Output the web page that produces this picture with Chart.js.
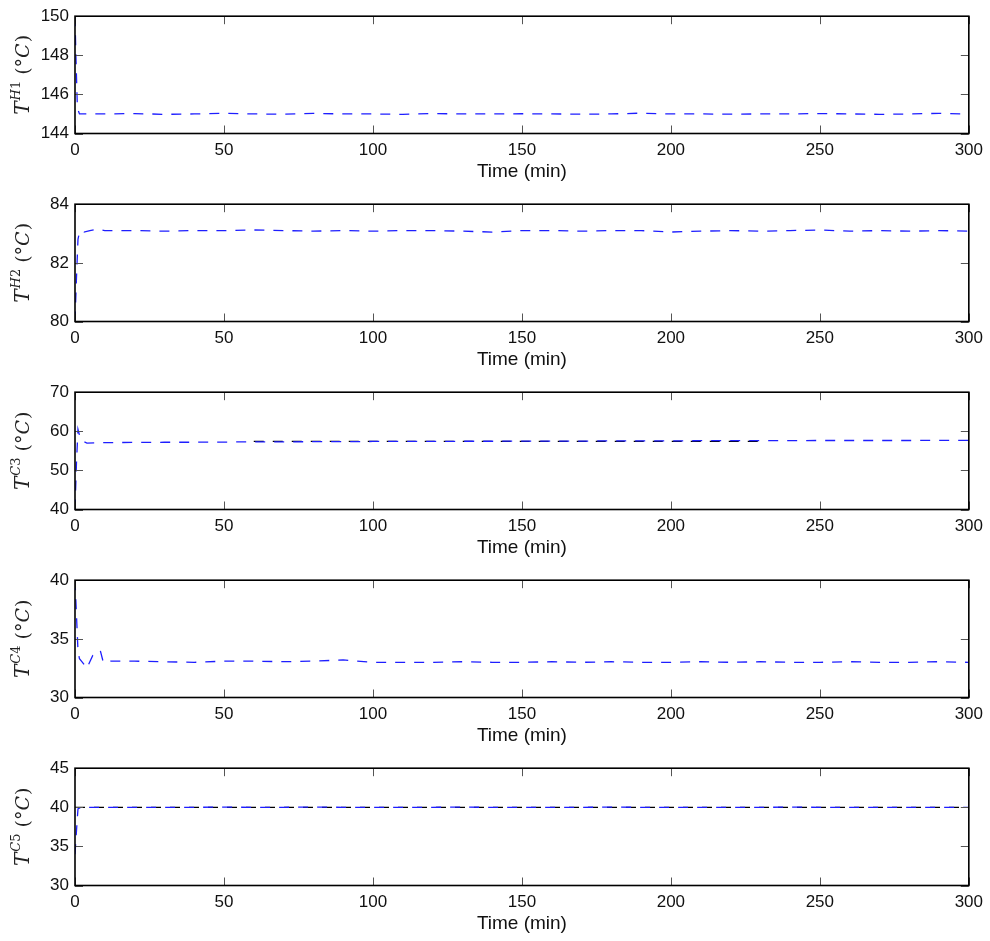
<!DOCTYPE html>
<html>
<head>
<meta charset="utf-8">
<script src="https://cdn.jsdelivr.net/npm/chart.js@4.4.1/dist/chart.umd.min.js"></script>
<style>
  html, body { margin: 0; padding: 0; background: #fff; }
  #wrap { position: relative; width: 990px; height: 941px; overflow: hidden; }
  .panel { position: absolute; left: 0; width: 990px; height: 188px; }
</style>
</head>
<body>
<div id="wrap">
  <div class="panel" style="top:0px"><canvas id="c0"></canvas></div>
  <div class="panel" style="top:188px"><canvas id="c1"></canvas></div>
  <div class="panel" style="top:376px"><canvas id="c2"></canvas></div>
  <div class="panel" style="top:564px"><canvas id="c3"></canvas></div>
  <div class="panel" style="top:752px"><canvas id="c4"></canvas></div>
</div>
<script>
'use strict';

// x ticks shared by all panels
const timeTicks = [0, 50, 100, 150, 200, 250, 300];

// T^H1
const timeH1 = [0, 0.3, 0.8, 1.5, 3, 5, 10, 20, 30, 40, 50, 60, 70, 80, 90, 100, 110, 120, 130, 140, 150, 160, 170, 180, 190, 200, 210, 220, 230, 240, 250, 260, 270, 280, 290, 300];
const tempH1 = [150, 148, 145.3, 145.0, 145.0, 145.0, 145.0, 145.02, 144.98, 145.0, 145.03, 145.0, 144.99, 145.03, 145.0, 145.0, 144.98, 145.02, 145.0, 145.0, 145.01, 145.0, 144.99, 145.0, 145.04, 145.0, 145.0, 144.99, 145.0, 145.0, 145.02, 145.0, 144.98, 145.0, 145.03, 145.0];
const ticksH1 = [144, 146, 148, 150];

// T^H2
const timeH2 = [0, 0.5, 1, 1.5, 2, 3, 5, 8, 10, 20, 30, 40, 50, 60, 70, 80, 90, 100, 110, 120, 130, 140, 150, 160, 170, 180, 190, 200, 210, 220, 230, 240, 250, 260, 270, 280, 290, 300];
const tempH2 = [80, 81.5, 82.8, 83.05, 83.1, 83.05, 83.1, 83.15, 83.1, 83.1, 83.08, 83.1, 83.1, 83.12, 83.1, 83.08, 83.1, 83.08, 83.1, 83.1, 83.08, 83.05, 83.1, 83.1, 83.08, 83.1, 83.1, 83.05, 83.08, 83.1, 83.08, 83.1, 83.12, 83.08, 83.1, 83.08, 83.1, 83.08];
const ticksH2 = [80, 82, 84];

// T^C3
const timeC3 = [0, 0.5, 1, 1.5, 2.5, 4, 10, 20, 30, 40, 50, 60, 70, 80, 90, 100, 110, 120, 130, 140, 150, 160, 170, 180, 190, 200, 210, 220, 230, 240, 250, 260, 270, 280, 290, 300];
const tempC3 = [40, 52, 60.5, 59, 57.5, 57.0, 57.1, 57.15, 57.2, 57.2, 57.25, 57.3, 57.3, 57.35, 57.35, 57.4, 57.4, 57.4, 57.45, 57.45, 57.5, 57.5, 57.5, 57.55, 57.55, 57.55, 57.6, 57.6, 57.6, 57.6, 57.65, 57.65, 57.65, 57.65, 57.7, 57.7];
const setTimeC3 = [60, 230];
const setC3 = [57.4, 57.4];
const ticksC3 = [40, 50, 60, 70];

// T^C4
const timeC4 = [0, 0.5, 1, 1.5, 2.5, 4, 6, 8.5, 9.5, 12, 20, 30, 40, 50, 60, 70, 80, 90, 100, 110, 120, 130, 140, 150, 160, 170, 180, 190, 200, 210, 220, 230, 240, 250, 260, 270, 280, 290, 300];
const tempC4 = [40, 37, 34, 33.3, 33.0, 32.5, 33.6, 34.0, 33.0, 33.1, 33.1, 33.05, 33.0, 33.1, 33.1, 33.05, 33.1, 33.2, 33.0, 33.0, 33.0, 33.05, 33.0, 33.0, 33.05, 33.0, 33.05, 33.0, 33.0, 33.05, 33.0, 33.05, 33.0, 33.0, 33.05, 33.0, 33.0, 33.05, 33.0];
const ticksC4 = [30, 35, 40];

// T^C5
const timeC5 = [0, 0.5, 1, 2, 5, 10, 20, 30, 40, 50, 60, 70, 80, 90, 100, 110, 120, 130, 140, 150, 160, 170, 180, 190, 200, 210, 220, 230, 240, 250, 260, 270, 280, 290, 300];
const tempC5 = [34, 37, 39.8, 40.0, 40.0, 40.0, 40.0, 40.0, 40.0, 40.02, 40.0, 40.0, 40.03, 40.0, 40.0, 40.0, 40.0, 40.02, 40.0, 40.0, 40.0, 40.0, 40.02, 40.0, 40.0, 40.0, 40.0, 40.0, 40.02, 40.0, 40.0, 40.0, 40.0, 40.0, 40.0];
const setTimeC5 = [0, 300];
const setC5 = [40, 40];
const ticksC5 = [30, 35, 40, 45];

const toPoints = (xs, ys) => xs.map((x, i) => ({ x: x, y: ys[i] }));

const PLOT_LEFT = 75;
const PLOT_RIGHT = 969;
const PAD_TOP = 13;
const PLOT_H = 120.5;

// frame + inward ticks, matlab style
const framePlugin = {
    id: 'frame',
    afterDraw(chart) {
        const ctx = chart.ctx;
        const a = chart.chartArea;
        const xs = chart.scales.x;
        const ys = chart.scales.y;
        const len = 8;
        ctx.save();
        ctx.strokeStyle = '#555';
        ctx.lineWidth = 1;
        ctx.beginPath();
        xs.ticks.forEach(t => {
            const px = Math.round(xs.getPixelForValue(t.value)) + 0.5;
            ctx.moveTo(px, a.bottom); ctx.lineTo(px, a.bottom - len);
            ctx.moveTo(px, a.top); ctx.lineTo(px, a.top + len);
        });
        ys.ticks.forEach(t => {
            const py = Math.round(ys.getPixelForValue(t.value)) + 0.5;
            ctx.moveTo(a.left, py); ctx.lineTo(a.left + len, py);
            ctx.moveTo(a.right, py); ctx.lineTo(a.right - len, py);
        });
        ctx.stroke();
        ctx.strokeStyle = '#000';
        ctx.lineWidth = 1.6;
        ctx.strokeRect(a.left, a.top, a.right - a.left, a.bottom - a.top);
        ctx.restore();
    }
};

// rotated y title with superscript, like T^{H1} (°C)
const yTitlePlugin = {
    id: 'ytitle',
    afterDraw(chart, args, opts) {
        const ctx = chart.ctx;
        const a = chart.chartArea;
        const serif = '"DejaVu Serif", "Liberation Serif"';
        const parts = [
            { t: 'T', f: 'italic 20px ' + serif, dy: 0, gap: 1 },
            { t: opts.letter, f: 'italic 13px ' + serif, dy: -9, gap: 0 },
            { t: opts.num, f: '13px ' + serif, dy: -9, gap: 6 },
            { t: '(', f: '19px ' + serif, dy: 0, gap: 0 },
            { t: '°', f: '19px ' + serif, dy: 0, gap: 0 },
            { t: 'C', f: 'italic 19px ' + serif, dy: 0, gap: 1 },
            { t: ')', f: '19px ' + serif, dy: 0, gap: 0 }
        ];
        ctx.save();
        let total = 0;
        parts.forEach(p => { ctx.font = p.f; p.w = ctx.measureText(p.t).width; total += p.w + p.gap; });
        ctx.translate(29, (a.top + a.bottom) / 2);
        ctx.rotate(-Math.PI / 2);
        ctx.fillStyle = '#222';
        ctx.textBaseline = 'alphabetic';
        let x = -total / 2;
        parts.forEach(p => {
            ctx.font = p.f;
            ctx.fillText(p.t, x, p.dy);
            x += p.w + p.gap;
        });
        ctx.restore();
    }
};

function makePanel(id, series, yTicks, letter, num) {
    const ctx = document.getElementById(id);
    const datasets = series.map(s => ({
        data: s.data,
        borderColor: s.color,
        borderWidth: 1.3,
        borderDash: [10, 9],
        pointRadius: 0,
        fill: false,
        tension: 0,
        order: s.order
    }));
    return new Chart(ctx, {
        type: 'line',
        data: { datasets: datasets },
        plugins: [framePlugin, yTitlePlugin],
        options: {
            responsive: true,
            maintainAspectRatio: false,
            animation: false,
            layout: { padding: { top: PAD_TOP, right: 990 - PLOT_RIGHT, left: 0, bottom: 0 } },
            plugins: {
                legend: { display: false },
                tooltip: { enabled: false },
                ytitle: { letter: letter, num: num }
            },
            scales: {
                x: {
                    type: 'linear',
                    min: 0,
                    max: 300,
                    afterBuildTicks: axis => { axis.ticks = timeTicks.map(v => ({ value: v })); },
                    grid: { display: false, drawTicks: false },
                    border: { display: false },
                    ticks: { color: '#111', padding: 7, font: { family: '"Liberation Sans", Arial', size: 17 } },
                    title: {
                        display: true,
                        text: 'Time (min)',
                        color: '#111',
                        font: { family: '"Liberation Sans", Arial', size: 19 },
                        padding: { top: 0, bottom: 5 }
                    },
                    afterFit: axis => { axis.height = 188 - PAD_TOP - PLOT_H; }
                },
                y: {
                    type: 'linear',
                    min: yTicks[0],
                    max: yTicks[yTicks.length - 1],
                    afterBuildTicks: axis => { axis.ticks = yTicks.map(v => ({ value: v })); },
                    grid: { display: false, drawTicks: false },
                    border: { display: false },
                    ticks: { color: '#111', padding: 6, font: { family: '"Liberation Sans", Arial', size: 17 } },
                    afterFit: axis => { axis.width = PLOT_LEFT; }
                }
            }
        }
    });
}

const BLUE = 'rgb(30,30,255)';
const BLACK = '#000';

makePanel('c0', [{ data: toPoints(timeH1, tempH1), color: BLUE, order: 0 }], ticksH1, 'H', '1');
makePanel('c1', [{ data: toPoints(timeH2, tempH2), color: BLUE, order: 0 }], ticksH2, 'H', '2');
makePanel('c2', [
    { data: toPoints(setTimeC3, setC3), color: BLACK, order: 1 },
    { data: toPoints(timeC3, tempC3), color: BLUE, order: 0 }
], ticksC3, 'C', '3');
makePanel('c3', [{ data: toPoints(timeC4, tempC4), color: BLUE, order: 0 }], ticksC4, 'C', '4');
makePanel('c4', [
    { data: toPoints(setTimeC5, setC5), color: BLACK, order: 1 },
    { data: toPoints(timeC5, tempC5), color: BLUE, order: 0 }
], ticksC5, 'C', '5');
</script>
</body>
</html>
